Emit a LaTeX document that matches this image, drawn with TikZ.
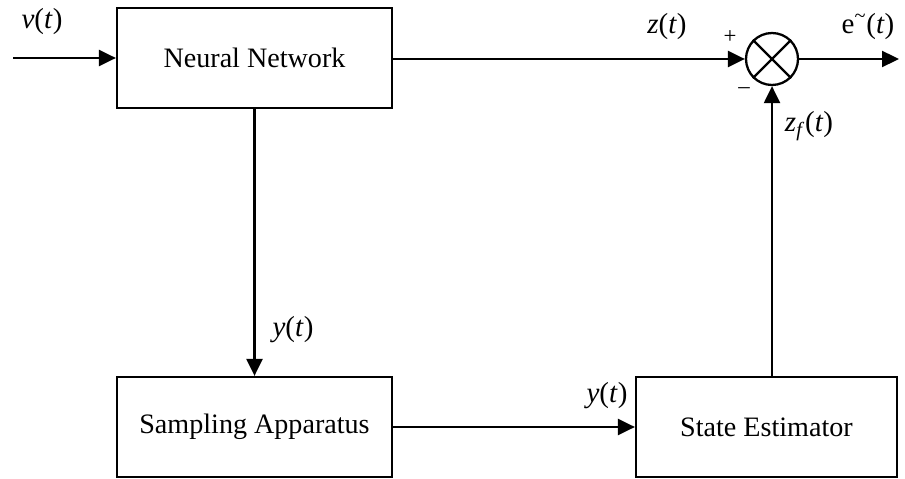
\documentclass[tikz,border=0pt]{standalone}
\usepackage{fontspec}
\setmainfont{Liberation Serif}
\usetikzlibrary{arrows.meta}
\begin{document}
\begin{tikzpicture}[x=0.02cm,y=-0.02cm,
  blk/.style={draw,line width=1.3pt,rectangle,minimum height=2cm,font=\fontsize{16}{19}\selectfont},
  lbl/.style={font=\fontsize{16.5}{19}\selectfont,inner sep=0pt},
  sgn/.style={font=\fontsize{13}{15}\selectfont,inner sep=0pt},
  arr/.style={line width=1.3pt,-{Triangle[length=0.34cm,width=0.32cm]}},
  ln/.style={line width=1.3pt}]
\useasboundingbox (0,0) rectangle (905,479);
\node[blk,minimum width=5.5cm] (nn) at (254.5,58) {Neural Network};
\node[blk,minimum width=5.5cm] (sa) at (254.5,427) {Sampling Apparatus};
\node[blk,minimum width=5.22cm] (se) at (766.5,427) {State Estimator};
\node[draw,circle,line width=1.3pt,minimum size=1.04cm,inner sep=0pt] (sum) at (772,59) {};
\draw[ln] (sum.north west) -- (sum.south east);
\draw[ln] (sum.north east) -- (sum.south west);
\coordinate (in) at (13,58);
\coordinate (out) at (899,59);
\draw[arr] (in) -- (nn.west);
\draw[arr] (nn.east |- sum) -- (sum.west);
\draw[arr] (sum.east) -- (out);
\draw[arr] (nn.south) -- (sa.north);
\draw[arr] (sa.east) -- (se.west);
\draw[arr] (sum |- se.north) -- (sum.south);
\node[lbl] (lv) at (42,22) {\textit{v}(\textit{t})};
\node[lbl] (lz) at (667,27) {\textit{z}(\textit{t})};
\node[lbl] (le) at (868,27) {e\textsuperscript{\textasciitilde}(\textit{t})};
\node[lbl] (lzf) at (809,126) {\textit{z}\textsubscript{\textit{f}}(\textit{t})};
\node[lbl] (ly1) at (293,330) {\textit{y}(\textit{t})};
\node[lbl] (ly2) at (607,396) {\textit{y}(\textit{t})};
\node[sgn] (plus) at (730,37) {+};
\node[sgn] (minus) at (744,91) {\textendash};
\end{tikzpicture}
\end{document}
